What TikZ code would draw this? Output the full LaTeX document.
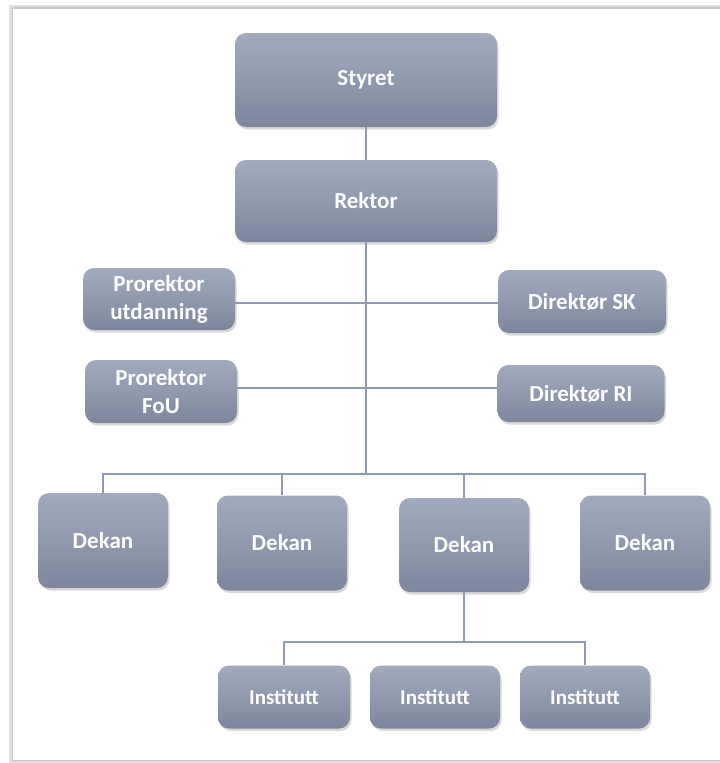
\documentclass[tikz,border=0pt]{standalone}
\usepackage{fontspec}
\setmainfont{Carlito}
\usetikzlibrary{shadows}
\definecolor{boxtop}{HTML}{A2ABBE}
\definecolor{boxbot}{HTML}{7D869C}
\definecolor{linecol}{HTML}{8F9AB2}
\definecolor{framecol}{HTML}{C9C9C9}
\tikzset{
  orgbox/.style={rounded corners=11pt, top color=boxtop, bottom color=boxbot,
    draw=none, text=white, font=\bfseries\fontsize{23}{28}\selectfont,
    align=center, inner sep=0pt,
    drop shadow={shadow xshift=1.5pt, shadow yshift=-2.5pt, opacity=0.25, fill=black!60}},
  instbox/.style={orgbox, font=\bfseries\fontsize{21}{25}\selectfont},
  conn/.style={draw=linecol, line width=2.2pt}
}
\begin{document}
\begin{tikzpicture}[x=1pt, y=-1pt]
\useasboundingbox (0,0) rectangle (720,763);
% frame
\draw[framecol!60, line width=4pt] (730,7) -- (11,7) -- (11,762) -- (730,762);
\draw[framecol, line width=1.5pt] (730,8) -- (12.5,8) -- (12.5,760.5) -- (730,760.5);

% nodes
\node[orgbox, minimum width=262pt, minimum height=94pt] (styret) at (366,80) {Styret};
\node[orgbox, minimum width=262pt, minimum height=82pt] (rektor) at (366,201) {Rektor};
\node[orgbox, minimum width=152pt, minimum height=62pt] (pu) at (159,299) {Prorektor\\utdanning};
\node[orgbox, minimum width=168pt, minimum height=63pt] (dsk) at (582,301.5) {Direktør SK};
\node[orgbox, minimum width=152pt, minimum height=63pt] (pf) at (161,391.5) {Prorektor\\FoU};
\node[orgbox, minimum width=167pt, minimum height=57pt] (dri) at (581,393.5) {Direktør RI};

\node[orgbox, minimum width=130pt, minimum height=95pt] (d1) at (103,540.5) {Dekan};
\node[orgbox, minimum width=130pt, minimum height=95pt] (d2) at (282,543) {Dekan};
\node[orgbox, minimum width=130pt, minimum height=94pt] (d3) at (464,545) {Dekan};
\node[orgbox, minimum width=130pt, minimum height=95pt] (d4) at (645,543) {Dekan};

\node[instbox, minimum width=132pt, minimum height=63pt] (i1) at (284,697) {Institutt};
\node[instbox, minimum width=130pt, minimum height=63pt] (i2) at (435,697) {Institutt};
\node[instbox, minimum width=130pt, minimum height=63pt] (i3) at (585,697) {Institutt};

% helper coordinates
\coordinate (y1) at (0,303);
\coordinate (y2) at (0,388);
\coordinate (bus) at (366,474);
\coordinate (ibus) at (466,642);

% connectors
\begin{scope}[on background layer/.style={}]
\draw[conn] (styret.south) -- (rektor.north);
\draw[conn] (rektor.south) -- (bus);
\draw[conn] (pu.east |- y1) -- (dsk.west |- y1);
\draw[conn] (pf.east |- y2) -- (dri.west |- y2);
\draw[conn] (d1.north) |- (bus);
\draw[conn] (d2.north) -- (d2.north |- bus);
\draw[conn] (d3.north) -- (d3.north |- bus);
\draw[conn] (d4.north) |- (bus);
\draw[conn] (d3.south) -- (d3.south |- ibus);
\draw[conn] (i1.north) |- (ibus);
\draw[conn] (i3.north) |- (ibus);
\end{scope}
\end{tikzpicture}
\end{document}
